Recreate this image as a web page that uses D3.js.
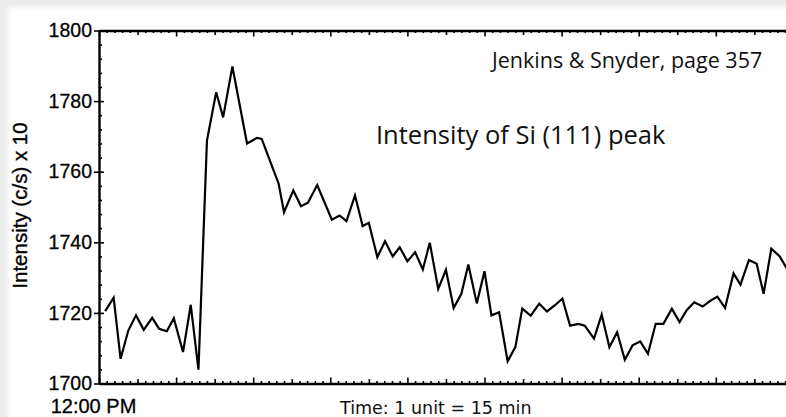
<!DOCTYPE html>
<html>
<head>
<meta charset="utf-8">
<script src="https://cdn.jsdelivr.net/npm/d3@7"></script>
<style>
  html, body { margin: 0; padding: 0; background: #ececec; overflow: hidden; }
  svg { display: block; }
</style>
</head>
<body>
<svg id="chart" width="786" height="417"></svg>
<script>
// Time in units of 15 min after 12:00 PM
const timeUnits = [
  0.8, 1.9, 2.8, 3.8, 4.8, 5.8, 6.9, 7.8, 8.8, 9.7,
  10.9, 11.9, 12.9, 14.0, 15.2, 16.1, 17.3, 19.2, 20.5, 21.1,
  23.3, 24.0, 25.2, 26.2, 27.1, 28.3, 30.2, 31.2, 32.1, 33.2,
  34.2, 35.0, 36.1, 37.1, 38.1, 39.0, 40.0, 41.0, 42.0, 42.9,
  44.0, 45.0, 46.0, 47.0, 47.9, 49.0, 50.0, 50.9, 51.9, 53.0,
  54.0, 54.9, 56.0, 57.1, 58.1, 59.1, 60.1, 61.1, 62.2, 63.0,
  64.2, 65.2, 66.2, 67.2, 68.2, 69.2, 70.2, 71.2, 72.2, 73.2,
  74.3, 75.3, 76.2, 77.2, 78.3, 79.2, 80.2, 81.2, 82.3, 83.2,
  84.3, 85.3, 86.2, 87.2, 88.3, 89.2
];
// Intensity of the Si (111) peak, (c/s) x 10
const intensity = [
  1720.5, 1724.3, 1707.0, 1715.0, 1719.3, 1715.2, 1718.6, 1715.5, 1714.8, 1718.5,
  1708.9, 1722.3, 1703.9, 1768.8, 1782.5, 1775.4, 1789.8, 1768.0, 1769.6, 1769.3,
  1756.6, 1748.5, 1754.7, 1750.2, 1751.2, 1756.2, 1746.4, 1747.6, 1746.0, 1753.3,
  1744.6, 1745.5, 1735.8, 1740.3, 1736.0, 1738.6, 1734.6, 1737.2, 1732.3, 1739.9,
  1726.8, 1732.2, 1721.4, 1725.4, 1733.7, 1722.7, 1731.8, 1719.3, 1720.2, 1706.3,
  1710.3, 1721.2, 1719.2, 1722.6, 1720.4, 1722.1, 1724.0, 1716.4, 1716.9, 1716.4,
  1712.7, 1719.5, 1710.3, 1714.5, 1706.7, 1710.8, 1711.9, 1708.4, 1716.9, 1716.9,
  1721.2, 1717.4, 1720.7, 1723.0, 1721.8, 1723.3, 1724.6, 1721.4, 1731.2, 1728.0,
  1735.0, 1733.9, 1725.4, 1738.2, 1736.0, 1732.6
];

const yTickValues = [1700, 1720, 1740, 1760, 1780, 1800];
const yTickLabels = ["1700", "1720", "1740", "1760", "1780", "1800"];
const xStartLabel = "12:00 PM";
const xAxisTitle = "Time: 1 unit = 15 min";
const yAxisTitle = "Intensity (c/s) x 10";
const sourceNote = "Jenkins & Snyder, page 357";
const chartTitle = "Intensity of Si (111) peak";

const svg = d3.select("#chart");

// soft paper edge
const defs = svg.append("defs");
defs.append("filter").attr("id", "soft")
  .append("feGaussianBlur").attr("stdDeviation", 2);
svg.append("rect").attr("width", 786).attr("height", 417).attr("fill", "#ececec");
svg.append("rect").attr("x", 8).attr("y", 7).attr("width", 800).attr("height", 430)
  .attr("fill", "#ffffff").attr("filter", "url(#soft)");

const x = d3.scaleLinear().domain([0, 100]).range([99, 870]);
const y = d3.scaleLinear().domain([1700, 1800]).range([383.5, 30.5]);

const unitTicks = d3.range(0, 101);
const xTickLen = d => (d % 10 === 0 ? 6 : d % 5 === 0 ? 4.5 : 2.5);

function styleAxis(g) {
  g.select(".domain").attr("stroke", "#000").attr("stroke-width", 2.4);
  g.selectAll(".tick line").attr("stroke", "#000").attr("stroke-width", 1.6);
}

// bottom frame with inward ticks
const gBottom = svg.append("g")
  .attr("transform", `translate(0,${y(1700)})`)
  .call(d3.axisBottom(x).tickValues(unitTicks).tickSizeOuter(0).tickFormat(""));
gBottom.selectAll(".tick line").attr("y2", d => -xTickLen(d));
styleAxis(gBottom);

// top frame with inward ticks
const gTop = svg.append("g")
  .attr("transform", `translate(0,${y(1800)})`)
  .call(d3.axisTop(x).tickValues(unitTicks).tickSizeOuter(0).tickFormat(""));
gTop.selectAll(".tick line").attr("y2", d => xTickLen(d));
styleAxis(gTop);

// left frame: minor ticks every 4, major every 20
const gLeft = svg.append("g")
  .attr("transform", `translate(${x(0)},0)`)
  .call(d3.axisLeft(y).tickValues(d3.range(1700, 1801, 4)).tickSizeOuter(0).tickFormat(""));
gLeft.selectAll(".tick line")
  .attr("x1", d => ((d - 1700) % 20 === 0 ? -5 : 0))
  .attr("x2", d => ((d - 1700) % 20 === 0 ? 5 : 3));
styleAxis(gLeft);

// left tick labels
const gLabels = svg.append("g")
  .attr("transform", `translate(${x(0)},0)`)
  .call(d3.axisLeft(y).tickValues(yTickValues).tickSize(0).tickPadding(7)
    .tickFormat((d, i) => yTickLabels[i]));
gLabels.select(".domain").remove();
gLabels.selectAll("text")
  .attr("font-family", "'Liberation Sans', Arial, sans-serif")
  .attr("font-size", 19.5)
  .attr("fill", "#000")
  .attr("stroke", "#000").attr("stroke-width", 0.3);

// data line
const line = d3.line()
  .x((d, i) => x(timeUnits[i]))
  .y(d => y(d));
svg.append("path")
  .datum(intensity)
  .attr("d", line)
  .attr("fill", "none")
  .attr("stroke", "#000")
  .attr("stroke-width", 2.2)
  .attr("stroke-linejoin", "miter");

// texts
svg.append("text")
  .attr("x", 93.5).attr("y", 413)
  .attr("text-anchor", "middle")
  .attr("font-family", "'Liberation Sans', Arial, sans-serif")
  .attr("font-size", 20)
  .attr("stroke", "#000").attr("stroke-width", 0.3)
  .text(xStartLabel);

svg.append("text")
  .attr("x", 340).attr("y", 414)
  .attr("font-family", "'DejaVu Sans', Verdana, sans-serif")
  .attr("font-size", 17.5)
  .attr("fill", "#111")
  .text(xAxisTitle);

svg.append("text")
  .attr("transform", "translate(27,205.5) rotate(-90)")
  .attr("text-anchor", "middle")
  .attr("font-family", "'Liberation Sans', Arial, sans-serif")
  .attr("font-size", 20.5)
  .attr("stroke", "#000").attr("stroke-width", 0.35)
  .text(yAxisTitle);

svg.append("text")
  .attr("x", 492).attr("y", 68)
  .attr("font-family", "'Open Sans', 'Noto Sans', sans-serif")
  .attr("font-size", 21.5)
  .attr("fill", "#111")
  .text(sourceNote);

svg.append("text")
  .attr("x", 376).attr("y", 144)
  .attr("font-family", "'Open Sans', 'Noto Sans', sans-serif")
  .attr("font-size", 25.5)
  .attr("fill", "#111")
  .text(chartTitle);
</script>
</body>
</html>
